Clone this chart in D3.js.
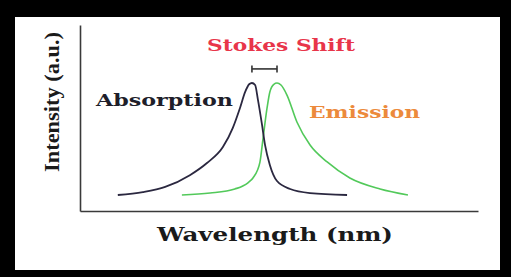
<!doctype html>
<html lang='en'>
<head>
<meta charset='UTF-8'>
<title>Stokes Shift</title>
<style>
  body { margin: 0; background: #000; }
  svg { display: block; }
  .domain { stroke: #3a3a3a; stroke-width: 1.6; }
  .lbl { font-family: 'DejaVu Serif', serif; font-weight: bold; }
</style>
</head>
<body>
<script src='https://d3js.org/d3.v7.min.js'></script>
<script>
  // wavelength (arbitrary units, 0-100) and intensity (peak = 100)
  const absWave = [9.5, 15.8, 21.4, 27.6, 31.9, 35.9, 38.4, 40.2, 41.5, 42.5, 43.2, 44.0, 44.7, 45.7, 46.5, 47.7, 49.5, 52.8, 57.8, 67.1]
  const absInt  = [12.5, 14.8, 18.8, 28, 37.5, 50, 65, 80.5, 93, 99, 100, 98.4, 87, 68, 51.5, 36, 23.4, 17.2, 14, 12.5]
  const emWave  = [25.6, 32.7, 38.9, 42.2, 43.5, 45.2, 46.0, 47.0, 47.7, 48.7, 49.5, 50.5, 52.0, 54.5, 57.8, 62.1, 67.8, 75.4, 82.4]
  const emInt   = [12.5, 14, 17.2, 22, 26, 38, 57, 80.5, 93, 99, 100, 98.4, 90.6, 69.5, 51.5, 38.3, 25.8, 17.2, 12.5]
  const shiftFrom = 43.2, shiftTo = 49.5, shiftLevel = 111

  const W = 511, H = 277

  const svg = d3.select('body').append('svg')
    .attr('width', W)
    .attr('height', H)

  // frame
  svg.append('rect')
    .attr('x', 15).attr('y', 17)
    .attr('width', 485).attr('height', 253)
    .attr('fill', '#fff')

  const xScale = d3.scaleLinear().domain([0, 100]).range([80, 478])
  const yScale = d3.scaleLinear().domain([0, 100]).range([211, 83])

  //// Axes ////
  svg.append('g')
    .attr('transform', 'translate(0,' + yScale(0) + ')')
    .call(d3.axisBottom(xScale).ticks(0).tickSizeOuter(0))

  svg.append('g')
    .attr('transform', 'translate(' + xScale(0) + ',0)')
    .call(d3.axisLeft(d3.scaleLinear().domain([0, 1]).range([211, 25])).ticks(0).tickSizeOuter(0))

  const line = d3.line()
    .x(d => xScale(d[0]))
    .y(d => yScale(d[1]))
    .curve(d3.curveMonotoneX)

  svg.append('path')
    .datum(emWave.map((w, i) => [w, emInt[i]]))
    .attr('d', line)
    .attr('fill', 'none')
    .attr('stroke', '#52c95a')
    .attr('stroke-width', 1.6)

  svg.append('path')
    .datum(absWave.map((w, i) => [w, absInt[i]]))
    .attr('d', line)
    .attr('fill', 'none')
    .attr('stroke', '#2b2840')
    .attr('stroke-width', 1.8)

  // stokes shift marker
  const sy = yScale(shiftLevel)
  const shift = svg.append('g').attr('stroke', '#333').attr('stroke-width', 1.6)
  shift.append('line')
    .attr('x1', xScale(shiftFrom)).attr('x2', xScale(shiftTo))
    .attr('y1', sy).attr('y2', sy)
  ;[shiftFrom, shiftTo].forEach(v => {
    shift.append('line')
      .attr('x1', xScale(v)).attr('x2', xScale(v))
      .attr('y1', sy - 3.5).attr('y2', sy + 3.5)
  })

  //// Labels ////
  svg.append('text').attr('class', 'lbl')
    .attr('x', 207).attr('y', 51)
    .attr('font-size', 16)
    .attr('textLength', 148).attr('lengthAdjust', 'spacingAndGlyphs')
    .attr('fill', '#e8354a')
    .text('Stokes Shift')

  svg.append('text').attr('class', 'lbl')
    .attr('x', 96).attr('y', 106)
    .attr('font-size', 16)
    .attr('textLength', 137).attr('lengthAdjust', 'spacingAndGlyphs')
    .attr('fill', '#1e1e2a')
    .text('Absorption')

  svg.append('text').attr('class', 'lbl')
    .attr('x', 309).attr('y', 118)
    .attr('font-size', 16)
    .attr('textLength', 111).attr('lengthAdjust', 'spacingAndGlyphs')
    .attr('fill', '#ec8a3c')
    .text('Emission')

  svg.append('text').attr('class', 'lbl')
    .attr('x', 157).attr('y', 241)
    .attr('font-size', 18)
    .attr('textLength', 236).attr('lengthAdjust', 'spacingAndGlyphs')
    .attr('fill', '#1a1a1a')
    .text('Wavelength (nm)')

  svg.append('text')
    .attr('transform', 'translate(59,102) rotate(-90)')
    .attr('text-anchor', 'middle')
    .attr('font-family', "'Liberation Serif', serif")
    .attr('font-weight', 'bold')
    .attr('font-size', 20)
    .attr('textLength', 140).attr('lengthAdjust', 'spacingAndGlyphs')
    .attr('fill', '#1a1a1a')
    .text('Intensity (a.u.)')
</script>
</body>
</html>
